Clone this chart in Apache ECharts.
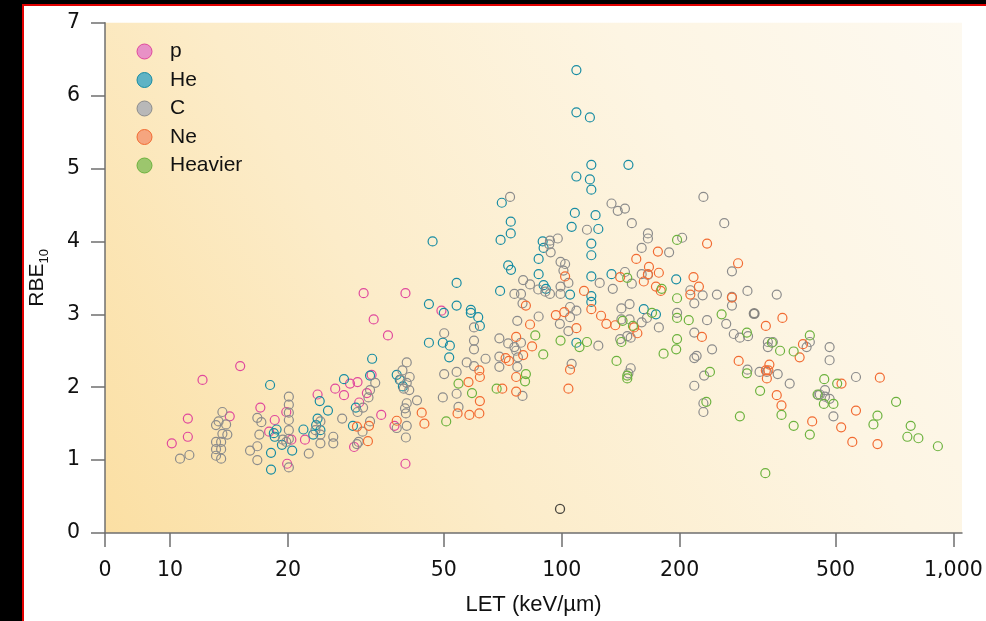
<!DOCTYPE html>
<html>
<head>
<meta charset="utf-8">
<script src="https://cdn.jsdelivr.net/npm/echarts@6/dist/echarts.min.js"></script>
<style>
  html, body { margin: 0; padding: 0; background: #ffffff; }
  #chart { width: 986px; height: 621px; }
</style>
</head>
<body>
<div id="chart"></div>
<script>
// RBE10 versus LET, grouped by ion species. Each point is [LET (keV/um), RBE10].
const protonPts = [
  [15.1,2.29],[12.1,2.10],[11.1,1.57],[11.1,1.32],[10.1,1.23],[14.2,1.60],[17.0,1.72],[18.5,1.55],
  [17.9,1.39],[19.8,1.66],[20.4,1.28],[22.1,1.28],[19.9,0.95],[23.8,1.90],[26.4,1.98],[27.8,1.89],
  [28.8,2.05],[30.1,2.07],[31.8,1.92],[30.4,1.79],[32.7,2.17],[34.6,1.62],[37.4,1.47],[29.5,1.18],
  [39.9,0.95],[31.2,3.29],[39.9,3.29],[33.1,2.93],[36.0,2.71],[49.3,3.05]
];
const heliumPts = [
  [18.0,2.03],[18.7,1.42],[18.4,1.37],[18.5,1.32],[19.3,1.21],[18.1,1.10],[18.1,0.87],[20.5,1.13],
  [21.9,1.42],[23.8,1.57],[23.6,1.48],[23.2,1.35],[24.2,1.41],[24.1,1.81],[25.3,1.68],
  [27.8,2.11],[32.8,2.39],[32.4,2.16],[37.9,2.17],[38.6,2.10],[39.3,2.01],[29.8,1.72],[29.3,1.47],
  [53.9,3.43],[45.8,3.14],[53.9,3.12],[50.0,3.02],[58.6,3.06],[58.6,3.02],[61.2,2.96],[61.8,2.84],
  [69.6,3.32],[45.8,2.61],[49.7,2.61],[51.8,2.57],[51.6,2.41],[105,3.27],[109,2.61],[89.9,3.40],[91.1,3.35],
  [109,6.35],[109,5.77],[118,5.70],[119,5.05],[148,5.05],[109,4.89],[118,4.85],[119,4.71],[70.3,4.53],
  [108,4.39],[122,4.36],[74.1,4.27],[74.1,4.11],[106,4.20],[124,4.17],[69.8,4.02],[46.8,4.00],
  [119,3.97],[119,3.81],[89.4,4.00],[89.9,3.91],[87.3,3.76],[73.0,3.67],[74.2,3.61],[87.3,3.55],
  [119,3.52],[134,3.55],[196,3.48],[119,3.25],[119,3.17],[162,3.07],[174,3.00]
];
const carbonPts = [
  [10.6,1.02],[11.2,1.07],[13.6,1.66],[13.3,1.53],[13.1,1.48],[13.9,1.49],[13.6,1.36],[14.0,1.35],
  [13.1,1.25],[13.5,1.25],[13.1,1.15],[13.5,1.15],[13.1,1.06],[13.5,1.02],[16.7,1.58],[17.1,1.52],
  [16.9,1.35],[16.7,1.19],[16.0,1.13],[16.7,1.00],[20.1,1.87],[20.1,1.76],[20.1,1.65],[20.1,1.55],
  [20.1,1.41],[20.1,1.29],[19.8,1.25],[19.4,1.28],[20.1,0.90],[24.2,1.53],[23.5,1.41],[24.2,1.35],
  [24.2,1.23],[22.6,1.09],[26.1,1.32],[26.1,1.23],[27.5,1.57],
  [75.7,3.28],[78.7,3.28],[79.4,3.15],[79.7,3.47],[83.0,3.41],[87.1,3.34],[90.8,3.31],[93.3,3.28],
  [99.3,3.38],[99.3,3.28],[104,3.43],[105,3.10],[109,3.05],[87.3,2.97],[77.0,2.91],[59.7,2.82],
  [50.1,2.74],[59.7,2.64],[59.7,2.52],[69.3,2.67],[73.0,2.60],[75.7,2.55],[78.7,2.61],[76.5,2.50],
  [77.3,2.41],[77.0,2.28],[69.3,2.42],[69.3,2.28],[63.9,2.39],[59.7,2.29],[57.2,2.34],[53.9,2.21],
  [50.1,2.18],[49.7,1.86],[53.9,1.91],[54.5,1.73],[40.2,2.34],[39.2,2.23],[40.9,2.14],[38.8,2.10],
  [40.2,2.06],[39.5,1.98],[40.8,1.96],[42.7,1.82],[40.2,1.78],[39.8,1.71],[40.0,1.64],[40.2,1.47],
  [40.0,1.31],[37.9,1.44],[33.4,2.06],[32.4,1.96],[32.1,1.86],[31.1,1.72],[30.1,1.66],[32.4,1.53],
  [31.0,1.39],[30.3,1.25],[30.0,1.22],[98.9,2.87],[104,2.77],[105,2.96],[106,2.32],[79.4,1.88],
  [73.8,4.61],[134,4.52],[139,4.42],[145,4.45],[151,4.25],[116,4.16],[97.7,4.04],[93.3,4.01],
  [92.9,3.96],[93.7,3.85],[166,4.11],[166,4.04],[160,3.91],[188,3.85],[99.3,3.72],[102,3.69],
  [101,3.60],[145,3.58],[160,3.55],[166,3.54],[203,4.05],[151,3.42],[125,3.43],[135,3.35],
  [142,3.08],[149,3.14],[142,2.93],[149,2.93],[160,2.89],[165,2.95],[177,2.82],[197,3.02],
  [230,4.61],[260,4.25],[272,3.59],[213,3.33],[218,3.15],[229,3.26],[249,3.27],[272,3.24],
  [272,3.12],[298,3.32],[354,3.27],[235,2.92],[263,2.87],[218,2.75],[275,2.73],[285,2.68],
  [299,2.70],[141,2.66],[150,2.68],[147,2.70],[124,2.57],[336,2.62],[346,2.62],[336,2.55],
  [430,2.62],[422,2.55],[242,2.52],[221,2.43],[218,2.40],[150,2.26],[148,2.19],[298,2.24],
  [320,2.21],[334,2.21],[356,2.18],[231,2.16],[382,2.05],[218,2.02],[230,1.78],[230,1.66],
  [452,1.89],[470,1.96],[470,1.87],[483,2.55],[483,2.37],[564,2.14],[456,1.90],[483,1.84],[494,1.60]
];
const neonPts = [
  [81.0,3.12],[83.0,2.86],[76.5,2.69],[79.7,2.44],[84.0,2.56],[71.9,2.40],[73.3,2.36],[76.5,2.14],
  [76.5,1.94],[70.5,1.98],[61.6,2.23],[61.8,2.14],[57.8,2.07],[61.8,1.81],[61.6,1.64],[58.1,1.62],
  [54.2,1.64],[43.9,1.65],[44.6,1.50],[37.9,1.54],[32.2,1.47],[30.0,1.46],[32.0,1.26],[96.6,2.99],
  [101.5,3.03],[109,2.81],[105,2.24],[104,1.98],
  [176,3.86],[155,3.76],[167,3.65],[177,3.57],[102,3.52],[141,3.51],[166,3.55],[162,3.45],
  [174,3.38],[179,3.32],[114,3.32],[119,3.07],[126,2.98],[130,2.87],[137,2.85],[153,2.82],[156,2.74],
  [235,3.97],[282,3.70],[217,3.51],[224,3.38],[213,3.27],[272,3.23],[228,2.69],[332,2.84],
  [366,2.95],[283,2.36],[339,2.31],[332,2.23],[337,2.23],[334,2.12],[354,1.89],[364,1.75],
  [413,2.59],[405,2.41],[436,1.53],[649,2.13],[518,2.05],[564,1.68],[517,1.45],[552,1.25],[640,1.22]
];
const heavierPts = [
  [85.6,2.71],[81.0,2.18],[80.6,2.08],[89.7,2.45],[99.3,2.64],[111,2.55],[68.2,1.98],[54.5,2.05],
  [59.0,1.92],[50.7,1.53],
  [197,4.02],[147,3.50],[180,3.35],[197,3.22],[170,3.02],[197,2.95],[143,2.91],[152,2.84],
  [211,2.92],[256,3.00],[297,2.75],[116,2.62],[142,2.62],[197,2.66],[196,2.52],[182,2.46],
  [138,2.36],[147,2.16],[147,2.12],[239,2.21],[297,2.19],[344,2.61],[361,2.50],[391,2.49],
  [321,1.95],[234,1.80],[285,1.60],[430,2.71],[468,2.11],[450,1.90],[467,1.77],[364,1.62],
  [391,1.47],[430,1.35],[505,2.05],[494,1.77],[331,0.82],[714,1.80],[640,1.61],[625,1.49],
  [778,1.47],[763,1.32],[814,1.30],[913,1.19]
];
// Two points not assigned to a species group
const blackPts = [[99,0.33]];
const darkGreyPts = [[310,3.01]];

const speciesNames = ['p', 'He', 'C', 'Ne', 'Heavier'];
const strokeColors = ['#e0489d', '#178ca3', '#8c8c8c', '#f26b32', '#6cb23e'];
const fillColors   = ['#e891c6', '#5fb3c5', '#b8b8b8', '#f5a57f', '#9cc66d'];

// Broken log axis: the origin is labelled 0, then decades 10 .. 1,000
const xAxisOrigin = 6.82;
const xTickLET = [xAxisOrigin, 10, 20, 50, 100, 200, 500, 1000];
const xTickLabels = ['0', '10', '20', '50', '100', '200', '500', '1,000'];
const xAxisEnd = 1052;
const yTicks = [0, 1, 2, 3, 4, 5, 6, 7];

const lg = v => Math.log10(v);
const toXY = pts => pts.map(([l, r]) => [lg(l), r]);

const tickFont = 'DejaVu Sans';
const textFont = 'Liberation Sans';
const axisGrey = '#6f6f6f';

const chart = echarts.init(document.getElementById('chart'), null, { renderer: 'canvas' });

const groups = [protonPts, heliumPts, carbonPts, neonPts, heavierPts];
const series = groups.map((pts, i) => ({
  type: 'scatter',
  name: speciesNames[i],
  data: toXY(pts),
  symbol: 'circle',
  symbolSize: 9,
  itemStyle: { color: 'rgba(0,0,0,0)', borderColor: strokeColors[i], borderWidth: 1.2, opacity: 1 },
  emphasis: { disabled: true },
  z: 3
}));
series.push({
  type: 'scatter', name: 'other-black', data: toXY(blackPts), symbol: 'circle', symbolSize: 9,
  itemStyle: { color: 'rgba(0,0,0,0)', borderColor: '#1a1a1a', borderWidth: 1.3 },
  emphasis: { disabled: true }, z: 4
});
series.push({
  type: 'scatter', name: 'other-grey', data: toXY(darkGreyPts), symbol: 'circle', symbolSize: 9,
  itemStyle: { color: 'rgba(0,0,0,0)', borderColor: '#666666', borderWidth: 2 },
  emphasis: { disabled: true }, z: 4
});

const option = {
  animation: false,
  backgroundColor: '#ffffff',
  grid: {
    left: 105, right: 24, top: 22.7, bottom: 87.7,
    show: true, borderWidth: 0,
    backgroundColor: new echarts.graphic.LinearGradient(0, 1, 1, 0, [
      { offset: 0, color: '#fbdfa3' },
      { offset: 0.35, color: '#fcecc9' },
      { offset: 0.7, color: '#fdf5e3' },
      { offset: 1, color: '#fdf9f0' }
    ])
  },
  legend: {
    orient: 'vertical',
    left: 131.5,
    top: 36,
    padding: 5,
    itemWidth: 15,
    itemHeight: 15,
    itemGap: 7.5,
    selectedMode: false,
    textStyle: { fontFamily: textFont, fontSize: 21, color: '#111111', lineHeight: 21, padding: [0, 0, 0, 13] },
    data: speciesNames.map((n, i) => ({
      name: n,
      icon: 'circle',
      itemStyle: { color: fillColors[i], borderColor: strokeColors[i], borderWidth: 1 }
    }))
  },
  xAxis: {
    type: 'value',
    min: lg(xAxisOrigin),
    max: lg(xAxisEnd),
    name: 'LET (keV/\u00b5m)',
    nameLocation: 'middle',
    nameGap: 61,
    nameTextStyle: { fontFamily: textFont, fontSize: 22, color: '#111111' },
    axisLine: { show: true, onZero: false, lineStyle: { color: axisGrey, width: 1.5 } },
    axisTick: {
      show: true, inside: false, length: 14,
      customValues: xTickLET.map(lg),
      lineStyle: { color: axisGrey, width: 1.5 }
    },
    axisLabel: {
      show: true, margin: 27,
      customValues: xTickLET.map(lg),
      fontFamily: tickFont, fontSize: 20.5, color: '#111111',
      formatter: v => {
        const i = xTickLET.findIndex(t => Math.abs(lg(t) - v) < 1e-6);
        return i >= 0 ? xTickLabels[i] : '';
      }
    },
    splitLine: { show: false }
  },
  yAxis: {
    type: 'value',
    min: yTicks[0],
    max: yTicks[yTicks.length - 1],
    interval: 1,
    name: '{a|RBE}{b|10}',
    nameLocation: 'middle',
    nameRotate: 90,
    nameGap: 54,
    nameTextStyle: {
      color: '#111111',
      rich: {
        a: { fontFamily: textFont, fontSize: 21, lineHeight: 28, verticalAlign: 'middle', color: '#111111' },
        b: { fontFamily: textFont, fontSize: 13, lineHeight: 13, verticalAlign: 'bottom', color: '#111111' }
      }
    },
    axisLine: { show: true, lineStyle: { color: axisGrey, width: 1.5 } },
    axisTick: { show: true, inside: false, length: 14, lineStyle: { color: axisGrey, width: 1.5 } },
    axisLabel: { show: true, margin: 25, fontFamily: tickFont, fontSize: 20.5, color: '#111111' },
    splitLine: { show: false }
  },
  graphic: [
    { type: 'rect', silent: true, z: 100, shape: { x: 0, y: 0, width: 986, height: 4 }, style: { fill: '#000000' } },
    { type: 'rect', silent: true, z: 100, shape: { x: 0, y: 0, width: 22, height: 621 }, style: { fill: '#000000' } },
    { type: 'rect', silent: true, z: 101, shape: { x: 22, y: 4, width: 964, height: 2 }, style: { fill: '#e00000' } },
    { type: 'rect', silent: true, z: 101, shape: { x: 22, y: 4, width: 2, height: 617 }, style: { fill: '#e00000' } }
  ],
  series: series
};

chart.setOption(option);
</script>
</body>
</html>
